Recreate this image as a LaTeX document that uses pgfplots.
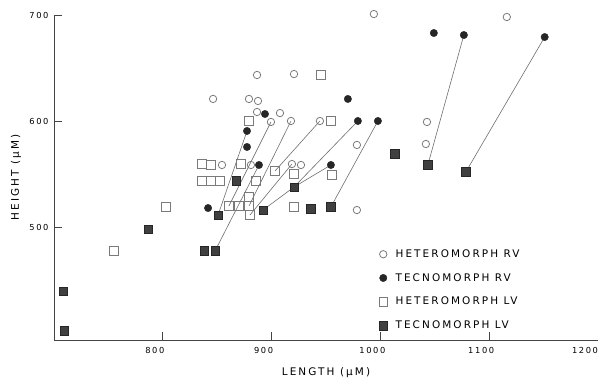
\documentclass[border=0pt]{standalone}
\usepackage{fontspec}
\setmainfont{DejaVu Sans}[LetterSpace=20]
\usepackage{pgfplots}
\pgfplotsset{compat=1.18}
\definecolor{opn}{HTML}{7A7A7A}
\definecolor{fil}{HTML}{262626}
\definecolor{lnk}{HTML}{6E6E6E}
\definecolor{axc}{HTML}{444444}
\begin{document}
\begin{tikzpicture}
\begin{axis}[
  at={(0,0)}, anchor=origin,
  scale only axis, width=544bp, height=325bp,
  xmin=700, xmax=1200, ymin=393.4, ymax=700,
  axis lines=left, axis line style={-, axc, line width=0.9bp},
  clip=false,
  xtick={800,900,1000,1100,1200}, ytick={500,600,700},
  xticklabels={800,900,1000,1100,{1200\rule{10bp}{0pt}}},
  tick align=inside, major tick length=8bp,
  tick style={axc, line width=0.9bp},
  /pgf/number format/assume math mode=true,
  /pgf/number format/1000 sep={},
  ticklabel style={font=\fontsize{8.3}{9}\selectfont, text=black},
  xticklabel style={yshift=-4bp, xshift=-8bp},
  yticklabel style={xshift=-2bp},
  xlabel={LENGTH (μM)}, ylabel={HEIGHT (μM)},
  label style={font=\fontsize{10.5}{11}\selectfont, text=black},
  xlabel style={at={(axis description cs:0.5,-0.1015)}, anchor=center},
  ylabel style={at={(axis description cs:-0.0699,0.5)}, anchor=center},
  legend style={draw=none, fill=none, at={(axis description cs:0.5915,0.291)}, anchor=north west,
    font=\fontsize{10.5}{11}\selectfont, text=black, row sep=10.5bp, column sep=6bp},
  legend cell align=left,
]
% connecting lines
\addplot[lnk, line width=0.6bp, forget plot] coordinates {(877.4,590.6) (850.8,511.3)};
\addplot[lnk, line width=0.6bp, forget plot] coordinates {(888.4,558.5) (848.0,477.4)};
\addplot[lnk, line width=0.6bp, forget plot] coordinates {(979.3,600) (920.6,537.7)};
\addplot[lnk, line width=0.6bp, forget plot] coordinates {(954.5,558.5) (920.6,537.7)};
\addplot[lnk, line width=0.6bp, forget plot] coordinates {(920.6,537.7) (892.1,516.0)};
\addplot[lnk, line width=0.6bp, forget plot] coordinates {(997.7,600) (954.5,518.9)};
\addplot[lnk, line width=0.6bp, forget plot] coordinates {(1076.7,681.1) (1043.6,558.5)};
\addplot[lnk, line width=0.6bp, forget plot] coordinates {(1151.0,679.2) (1078.5,551.9)};
\addplot[lnk, line width=0.6bp, forget plot] coordinates {(899.4,599.1) (860.8,519.8)};
\addplot[lnk, line width=0.6bp, forget plot] coordinates {(917.8,600) (879.2,519.8)};
\addplot[lnk, line width=0.6bp, forget plot] coordinates {(944.4,600) (903.1,552.8)};
\addplot[lnk, line width=0.6bp, forget plot] coordinates {(918.7,559.4) (880.1,511.3)};
% Heteromorph RV
\addplot[only marks, mark=o, mark size=3.7bp, opn, mark options={line width=0.8bp, fill=white}] coordinates {
(886.6,643.4) (920.6,644.3) (846.2,620.8) (879.2,620.8) (887.5,618.9)
(886.6,608.5) (907.7,607.5) (899.4,599.1) (917.8,600) (944.4,600)
(854.4,558.5) (881.0,558.5) (918.7,559.4) (927.0,558.5) (978.4,577.4)
(978.4,516.0) (994.0,700.9) (1116.2,698.1) (1042.8,599.1) (1041.8,578.3)
};
\addlegendentry{HETEROMORPH RV}
% Tecnomorph RV
\addplot[only marks, mark=*, mark size=3.7bp, fil, mark options={fill=fil}] coordinates {
(893.9,606.6) (970.1,620.8) (979.3,600) (997.7,600) (877.4,590.6)
(877.4,575.5) (888.4,558.5) (954.5,558.5) (841.6,517.9) (1049.1,683.0)
(1076.7,681.1) (1151.0,679.2)
};
\addlegendentry{TECNOMORPH RV}
% Heteromorph LV
\addplot[only marks, mark=square, mark size=4.3bp, opn, mark options={line width=0.8bp, fill=white}] coordinates {
(945.3,643.4) (879.2,600) (954.5,600) (836.1,559.4) (844.4,558.5)
(871.9,559.4) (903.1,552.8) (920.6,550) (955.5,549.1) (836.1,543.4)
(844.4,543.4) (852.7,543.4) (885.7,543.4) (879.2,528.3) (860.8,519.8)
(870.0,519.8) (879.2,519.8) (880.1,511.3) (920.6,518.9) (803.0,518.9)
(755.3,477.4)
};
\addlegendentry{HETEROMORPH LV}
% Tecnomorph LV
\addplot[only marks, mark=square*, mark size=4.3bp, fil, mark options={fill=fil!88!white}] coordinates {
(867.3,543.4) (920.6,537.7) (850.8,511.3) (892.1,516.0) (936.2,517.0)
(954.5,518.9) (1013.3,568.9) (1043.6,558.5) (1078.5,551.9) (786.5,498.1)
(837.9,477.4) (848.0,477.4) (708.4,439.6) (709.3,401.9)
};
\addlegendentry{TECNOMORPH LV}
\end{axis}
\pgfresetboundingbox
\path[use as bounding box] (-54bp,-40bp) rectangle (544bp,340bp);
\end{tikzpicture}
\end{document}
